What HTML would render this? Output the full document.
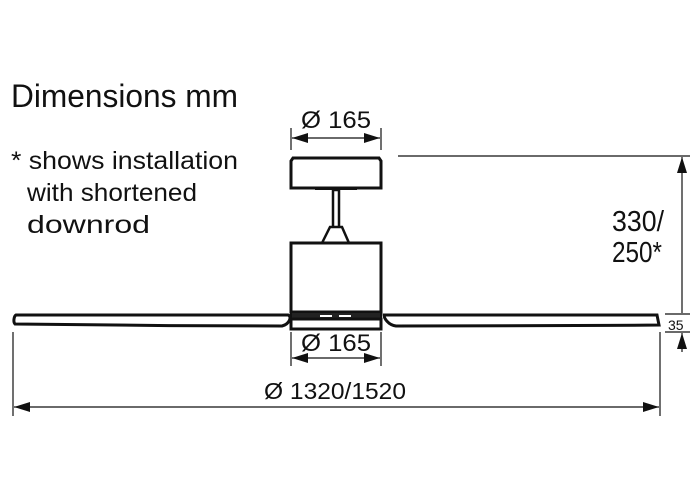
<!DOCTYPE html>
<html><head><meta charset="utf-8"><style>
html,body{margin:0;padding:0;background:#fff;}
svg{display:block;}
text{font-family:"Liberation Sans Narrow","Liberation Sans",sans-serif;fill:#111;}
</style></head><body>
<svg width="700" height="500" viewBox="0 0 700 500" xmlns="http://www.w3.org/2000/svg">
<defs>
<marker id="a" viewBox="0 0 16 10" refX="16" refY="5" markerWidth="16" markerHeight="10" markerUnits="userSpaceOnUse" orient="auto-start-reverse"><path d="M0,0 L16,5 L0,10 Z" fill="#111"/></marker>
</defs>
<text x="11" y="107" font-size="32" textLength="227" lengthAdjust="spacingAndGlyphs">Dimensions mm</text>
<text x="11" y="169" font-size="25" textLength="227" lengthAdjust="spacingAndGlyphs">* shows installation</text>
<text x="27" y="201" font-size="25" textLength="170" lengthAdjust="spacingAndGlyphs">with shortened</text>
<text x="27" y="233" font-size="25" textLength="123" lengthAdjust="spacingAndGlyphs">downrod</text>

<g stroke="#111" fill="none">
<path d="M291,161 L293,158 L379,158 L381,161 L381,188 L291,188 Z" stroke-width="3" fill="#fff"/>
<line x1="315" y1="189" x2="357" y2="189" stroke-width="2"/>
<rect x="333" y="190" width="6" height="38" stroke-width="2.5" fill="#fff"/>
<path d="M322,243 L330,227 L342,227 L349,243" stroke-width="2.5" fill="#fff"/>
<rect x="291" y="243" width="90" height="69" stroke-width="3" fill="#fff"/>
<rect x="291" y="312" width="90" height="7" fill="#222" stroke-width="2"/>
<line x1="320" y1="316" x2="332" y2="316" stroke="#fff" stroke-width="2"/>
<line x1="339" y1="316" x2="351" y2="316" stroke="#fff" stroke-width="2"/>
<rect x="291" y="319" width="90" height="10" stroke-width="3" fill="#fff"/>
<path d="M16,315 L288,315 C292,316 290,324 282,326 C200,326 80,325 15,324 C13,322 14,316 16,315 Z" stroke-width="3" fill="#fff"/>
<path d="M384,315 L657,315 L659,325 C560,326 450,326 396,326 C388,325 384,318 384,315 Z" stroke-width="3" fill="#fff"/>

<g stroke-width="1.2">
<line x1="291" y1="128" x2="291" y2="150"/><line x1="381" y1="128" x2="381" y2="150"/>
<line x1="292" y1="138" x2="380" y2="138" marker-start="url(#a)" marker-end="url(#a)"/>
<line x1="291" y1="332" x2="291" y2="366"/><line x1="381" y1="332" x2="381" y2="366"/>
<line x1="292" y1="358" x2="380" y2="358" marker-start="url(#a)" marker-end="url(#a)"/>
<line x1="13" y1="332" x2="13" y2="416"/><line x1="660" y1="332" x2="660" y2="416"/>
<line x1="14" y1="407" x2="659" y2="407" marker-start="url(#a)" marker-end="url(#a)"/>
<line x1="398" y1="156" x2="690" y2="156"/>
<line x1="682" y1="157" x2="682" y2="313" marker-start="url(#a)"/>
<line x1="665" y1="314" x2="690" y2="314"/>
<line x1="665" y1="332" x2="690" y2="332"/>
<line x1="682" y1="333" x2="682" y2="352" marker-start="url(#a)"/>
</g>
</g>
<text x="336" y="128" font-size="24" text-anchor="middle" textLength="70" lengthAdjust="spacingAndGlyphs">Ø 165</text>
<text x="336" y="351" font-size="24" text-anchor="middle" textLength="70" lengthAdjust="spacingAndGlyphs">Ø 165</text>
<text x="335" y="399" font-size="23" text-anchor="middle" textLength="142" lengthAdjust="spacingAndGlyphs">Ø 1320/1520</text>
<text x="612" y="231" font-size="29" textLength="52" lengthAdjust="spacingAndGlyphs">330/</text>
<text x="612" y="262" font-size="29" textLength="50" lengthAdjust="spacingAndGlyphs">250*</text>
<text x="668" y="330" font-size="14">35</text>
</svg>
</body></html>
